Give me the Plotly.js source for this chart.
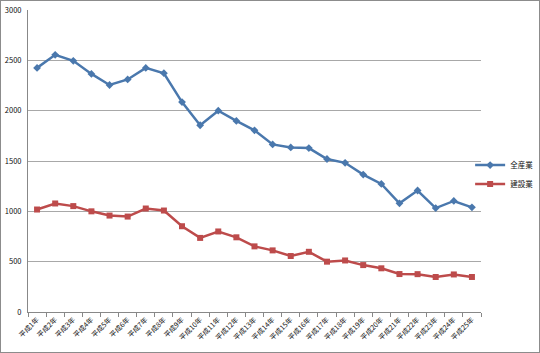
<!DOCTYPE html>
<html>
<head>
<meta charset="utf-8">
<script src="https://cdn.plot.ly/plotly-3.0.1.min.js"></script>
<style>
html,body{margin:0;padding:0;background:#fff;}
#wrap{position:relative;width:540px;height:353px;}
#chart{width:540px;height:353px;}
#frame{position:absolute;left:0;top:0;width:540px;height:353px;box-sizing:border-box;border:1px solid #8c8c8c;pointer-events:none;}
</style>
</head>
<body>
<div id="wrap"><div id="chart"></div><div id="frame"></div></div>
<script>
const categories = ["平成1年","平成2年","平成3年","平成4年","平成5年","平成6年","平成7年","平成8年","平成9年","平成10年","平成11年","平成12年","平成13年","平成14年","平成15年","平成16年","平成17年","平成18年","平成19年","平成20年","平成21年","平成22年","平成23年","平成24年","平成25年"];
const allIndustry = [2425,2555,2495,2365,2255,2310,2425,2372,2085,1855,2000,1898,1805,1665,1635,1628,1520,1482,1365,1272,1080,1207,1032,1103,1040];
const construction = [1018,1078,1052,1000,958,948,1028,1008,852,736,800,742,652,612,556,598,500,512,466,434,377,376,348,373,348];
const seriesNames = ["全産業","建設業"];

const font = "'Noto Sans CJK JP', 'DejaVu Sans', sans-serif";
const traces = [
  {x: categories, y: allIndustry, name: seriesNames[0], type: 'scatter', mode: 'lines+markers',
   line: {color: '#4a78ad', width: 2.5}, marker: {symbol: 'diamond', size: 6, color: '#4a78ad'}},
  {x: categories, y: construction, name: seriesNames[1], type: 'scatter', mode: 'lines+markers',
   line: {color: '#bd4b4b', width: 2.5}, marker: {symbol: 'square', size: 6, color: '#bd4b4b'}}
];
const layout = {
  width: 540, height: 353,
  margin: {l: 28, r: 59, t: 10, b: 41, autoexpand: false},
  paper_bgcolor: '#fff', plot_bgcolor: 'rgba(0,0,0,0)',
  font: {family: font, size: 7, color: '#111'},
  showlegend: true,
  legend: {x: 0.976, y: 0.455, xanchor: 'left', yanchor: 'middle', font: {size: 7.5, color: '#111'},
           itemwidth: 30, bgcolor: 'rgba(0,0,0,0)'},
  xaxis: {type: 'category', showline: true, linecolor: '#888', linewidth: 1,
          ticks: 'outside', tickson: 'boundaries', ticklen: 4, tickcolor: '#888',
          tickangle: -45, tickfont: {size: 7, color: '#111'}, showgrid: false, zeroline: false,
          range: [-0.5, 24.5]},
  yaxis: {range: [0, 3000], dtick: 500, showline: true, linecolor: '#888', linewidth: 1,
          showgrid: true, gridcolor: '#a8a8a8', gridwidth: 1, zeroline: false,
          ticks: '', tickfont: {size: 7.5, color: '#111'}, ticklabelstandoff: 4}
};
Plotly.newPlot('chart', traces, layout, {displayModeBar: false, staticPlot: true});
</script>
</body>
</html>
